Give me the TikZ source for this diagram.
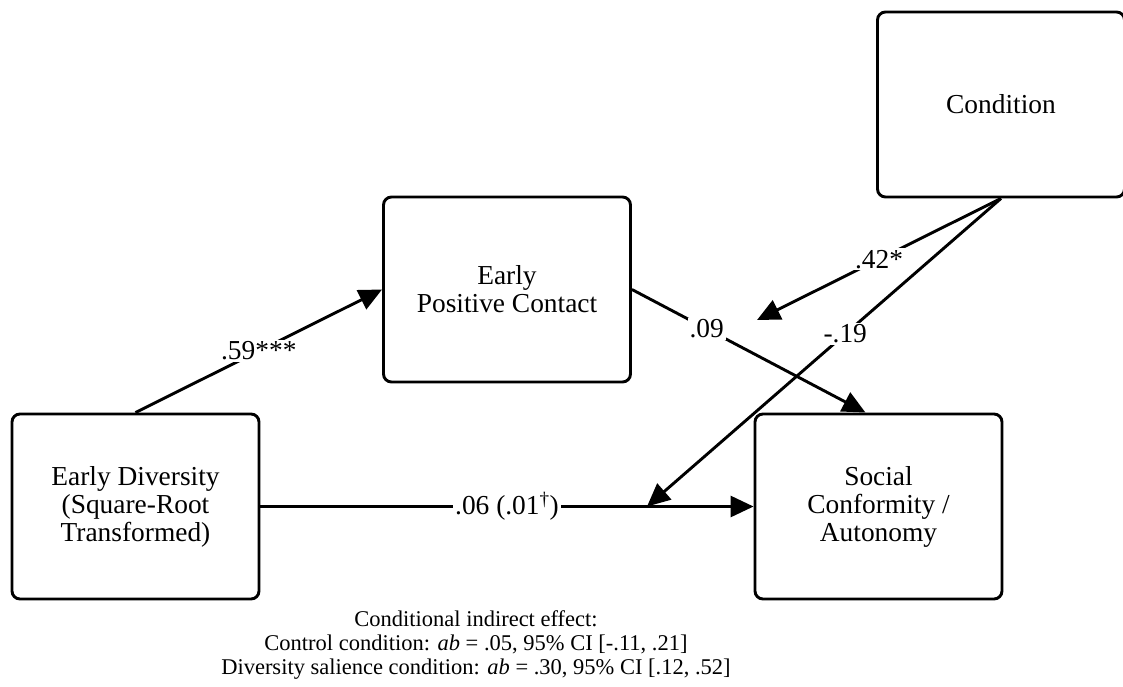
\documentclass[tikz,border=0pt]{standalone}
\usepackage{fontspec}
\setmainfont{Liberation Serif}
\usetikzlibrary{arrows.meta}

\newcommand{\boxfont}{\fontsize{27.4}{28}\selectfont}
\newcommand{\notefont}{\fontsize{22.5}{24.2}\selectfont}

\tikzset{
  varbox/.style={draw, line width=2.9pt, rounded corners=8pt,
    minimum width=247pt, minimum height=185pt, align=center,
    inner sep=0pt, font=\boxfont},
  path/.style={line width=2.9pt, -{Triangle[length=23pt,width=21pt]}},
  coef/.style={fill=white, inner sep=2pt, font=\boxfont},
}

\begin{document}
\begin{tikzpicture}[x=1pt, y=-1pt]
  \useasboundingbox (0,0) rectangle (1123,686);

  % variables
  \node[varbox] (ed)   at (135.5,506.5) {Early Diversity\\(Square-Root\\Transformed)};
  \node[varbox] (epc)  at (507,289.5)   {Early\\Positive Contact};
  \node[varbox] (sc)   at (878.5,506.5) {Social\\Conformity /\\Autonomy};
  \node[varbox] (cond) at (1001,104.5)  {Condition};

  % moderation targets
  \coordinate (modA) at (757,320);
  \coordinate (modB) at (647,506.5);

  % paths
  \draw[path] (ed.north) -- node[coef] {.59***} (epc.west);
  \draw[path] (epc.east) -- node[coef, pos=0.32] {.09} ([xshift=-13pt]sc.north);
  \draw[path] (ed.east) -- node[coef] {.06 (.01\textsuperscript{\textdagger})} (sc.west);
  \draw[path] (cond.south) -- node[coef] {.42*} (modA);
  \draw[path] (cond.south) -- node[coef, pos=0.44] {-.19} (modB);

  % indirect effects
  \node[align=center, font=\notefont, inner sep=0pt] (note) at (476,645)
    {Conditional indirect effect:\\
     Control condition: \textit{ab} = .05, 95\% CI [-.11, .21]\\
     Diversity salience condition: \textit{ab} = .30, 95\% CI [.12, .52]};
\end{tikzpicture}
\end{document}
